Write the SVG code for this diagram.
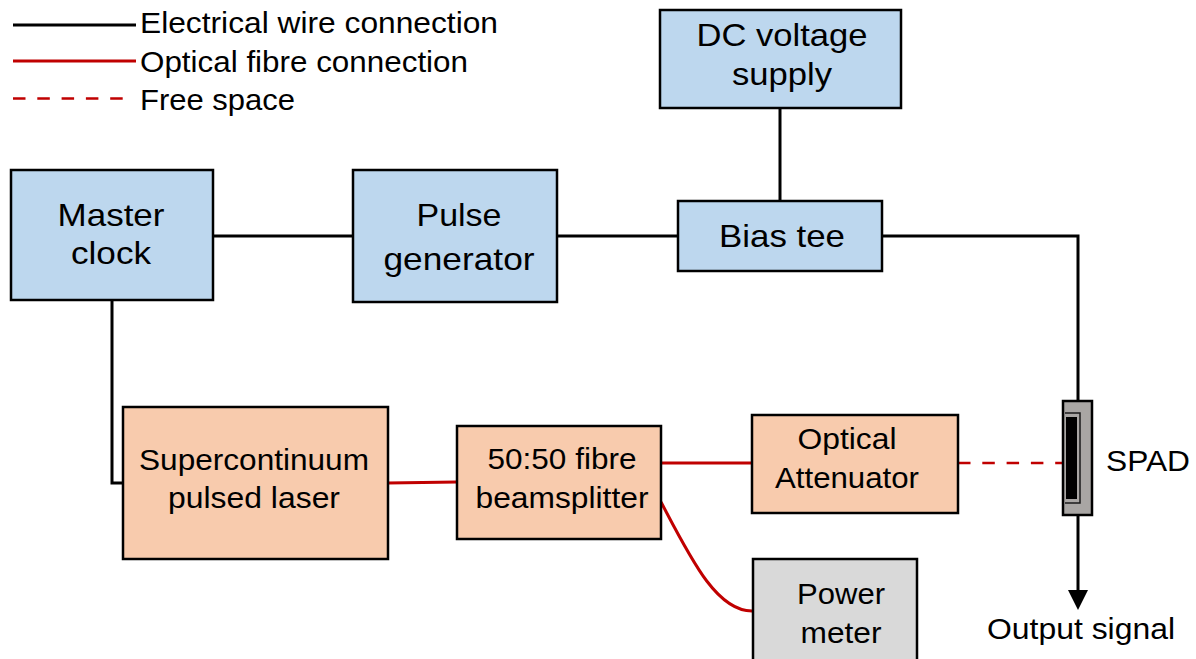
<svg xmlns="http://www.w3.org/2000/svg" width="1196" height="659" viewBox="0 0 1196 659">
<style>
text { font-family: "Liberation Sans", Arial, sans-serif; fill: #000; }
.t { text-anchor: middle; }
.big { font-size: 32px; }
.mid { font-size: 29px; }
.leg { font-size: 30px; }
.blue { fill: #bdd7ee; stroke: #000; stroke-width: 2.5; }
.orange { fill: #f8cbad; stroke: #000; stroke-width: 2.5; }
.grey { fill: #d9d9d9; stroke: #000; stroke-width: 2.5; }
.wire { fill: none; stroke: #000; stroke-width: 3; }
.fibre { fill: none; stroke: #c00000; stroke-width: 3; }
.free { fill: none; stroke: #c00000; stroke-width: 2.5; stroke-dasharray: 12.5 11.8; }
</style>

<g id="legend">
  <line class="wire" x1="13" y1="25" x2="136" y2="25"/>
  <line class="fibre" x1="13" y1="61" x2="136" y2="61"/>
  <line class="free" x1="13" y1="98.5" x2="124" y2="98.5"/>
  <text class="leg" x="140" y="33" textLength="358" lengthAdjust="spacingAndGlyphs">Electrical wire connection</text>
  <text class="leg" x="140" y="72" textLength="328" lengthAdjust="spacingAndGlyphs">Optical fibre connection</text>
  <text class="leg" x="140" y="110" textLength="155" lengthAdjust="spacingAndGlyphs">Free space</text>
</g>

<g id="connectors">
  <path class="wire" d="M213,236 H353"/>
  <path class="wire" d="M557,236 H678"/>
  <path class="wire" d="M780,108 V201"/>
  <path class="wire" d="M882,236 H1078 V401"/>
  <path class="wire" d="M112,300 V483 H123"/>
  <path class="wire" d="M1078,515 V592"/>
  <polygon points="1068,590 1088,590 1078,610" fill="#000"/>
  <path class="fibre" d="M388,483 L457,482"/>
  <path class="fibre" d="M661,463 H752"/>
  <path class="fibre" d="M661,502 C690,557 716,611 752,611"/>
  <path class="free" d="M958,463 H1063"/>
</g>

<g id="master-clock">
  <rect class="blue" x="11" y="170" width="202" height="130"/>
  <text class="t big" x="111" y="226" textLength="107" lengthAdjust="spacingAndGlyphs">Master</text>
  <text class="t big" x="111" y="264" textLength="80" lengthAdjust="spacingAndGlyphs">clock</text>
</g>

<g id="pulse-generator">
  <rect class="blue" x="353" y="170" width="204" height="132"/>
  <text class="t big" x="459" y="226" textLength="85" lengthAdjust="spacingAndGlyphs">Pulse</text>
  <text class="t big" x="459" y="270" textLength="151" lengthAdjust="spacingAndGlyphs">generator</text>
</g>

<g id="dc-voltage-supply">
  <rect class="blue" x="660" y="10" width="241" height="98"/>
  <text class="t big" x="782" y="46" textLength="171" lengthAdjust="spacingAndGlyphs">DC voltage</text>
  <text class="t big" x="782" y="85" textLength="100" lengthAdjust="spacingAndGlyphs">supply</text>
</g>

<g id="bias-tee">
  <rect class="blue" x="678" y="201" width="204" height="70"/>
  <text class="t big" x="782" y="247" textLength="126" lengthAdjust="spacingAndGlyphs">Bias tee</text>
</g>

<g id="supercontinuum-laser">
  <rect class="orange" x="123" y="407" width="265" height="152"/>
  <text class="t mid" x="254" y="470" textLength="230" lengthAdjust="spacingAndGlyphs">Supercontinuum</text>
  <text class="t mid" x="254" y="508" textLength="172" lengthAdjust="spacingAndGlyphs">pulsed laser</text>
</g>

<g id="beamsplitter">
  <rect class="orange" x="457" y="426" width="204" height="113"/>
  <text class="t mid" x="562" y="469" textLength="149" lengthAdjust="spacingAndGlyphs">50:50 fibre</text>
  <text class="t mid" x="562" y="508" textLength="173" lengthAdjust="spacingAndGlyphs">beamsplitter</text>
</g>

<g id="optical-attenuator">
  <rect class="orange" x="752" y="415" width="206" height="98"/>
  <text class="t mid" x="847" y="449" textLength="99" lengthAdjust="spacingAndGlyphs">Optical</text>
  <text class="t mid" x="847" y="488" textLength="144" lengthAdjust="spacingAndGlyphs">Attenuator</text>
</g>

<g id="power-meter">
  <rect class="grey" x="753" y="559" width="164" height="110"/>
  <text class="t mid" x="841" y="604" textLength="88" lengthAdjust="spacingAndGlyphs">Power</text>
  <text class="t mid" x="841" y="643" textLength="81" lengthAdjust="spacingAndGlyphs">meter</text>
</g>

<g id="spad">
  <rect x="1063" y="401" width="29" height="114" fill="#a9a6a4" stroke="#000" stroke-width="2.5"/>
  <rect x="1066" y="417" width="11" height="82" fill="#000"/>
  <path d="M1065,413 H1080 V503 H1065" fill="none" stroke="#1a1a1a" stroke-width="1.5"/>
  <text class="leg" x="1106" y="471" textLength="84" lengthAdjust="spacingAndGlyphs">SPAD</text>
</g>

<g id="output-signal">
  <text class="t leg" x="1081" y="639" textLength="188" lengthAdjust="spacingAndGlyphs">Output signal</text>
</g>
</svg>
